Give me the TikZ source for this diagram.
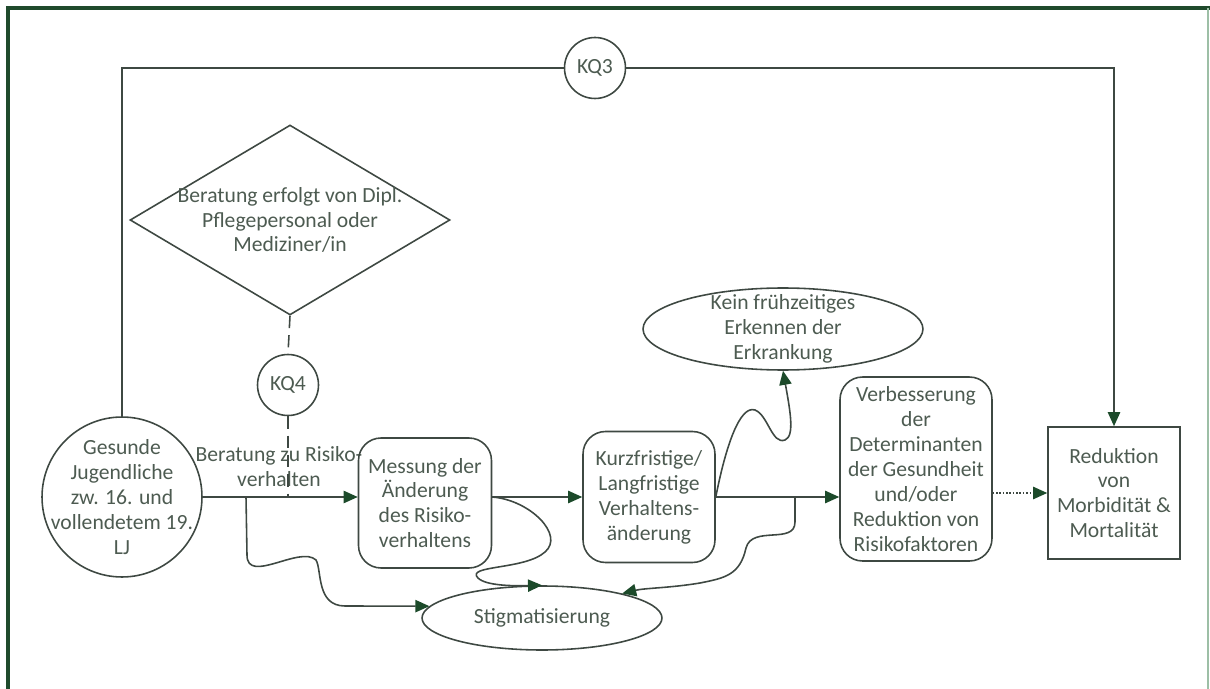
\documentclass[tikz,border=0pt]{standalone}
\usepackage{fontspec}
\setmainfont{Carlito}
\usepackage{tikz}
\usetikzlibrary{shapes,arrows.meta}
\usepackage{xcolor}
\definecolor{framegreen}{HTML}{1F4A2C}
\definecolor{framelight}{HTML}{9DBFA6}
\definecolor{linegray}{HTML}{3E4842}
\definecolor{textgray}{HTML}{4D5B51}
\definecolor{headgreen}{HTML}{1C4A2A}

\begin{document}
\begin{tikzpicture}[x=0.02cm,y=-0.02cm,font=\fontsize{12.3}{14.2}\selectfont]
    \tikzstyle{line} = [draw=linegray,line width=0.9pt]
    \tikzstyle{arr} = [line,-{Triangle[length=8pt,width=7pt,color=headgreen]}]
    \tikzstyle{box} = [line,rectangle,rounded corners=0.45cm,text=textgray,align=center,inner sep=0pt]
    \tikzstyle{plainbox} = [line,rectangle,text=textgray,align=center,inner sep=0pt]
    \tikzstyle{oval} = [line,ellipse,text=textgray,align=center,inner sep=0pt,inner ysep=-6pt]
    \tikzstyle{kq} = [line,circle,text=textgray,minimum size=1.22cm,inner sep=0pt]
    \tikzstyle{decision} = [line,diamond,text=textgray,align=center,aspect=1.69,inner xsep=-0.35cm,inner ysep=0pt,minimum width=6.4cm,minimum height=3.8cm]
    \tikzstyle{mylabel} = [text=textgray,align=center,inner sep=0pt]
    \useasboundingbox (0,0) rectangle (1210,689);
    % frame
    \draw[framegreen,line width=2.8pt] (8,689) -- (8,8) -- (1210,8);
    \draw[framelight,line width=1pt] (1208,8) -- (1208,689);
    \node[kq] (kqthree) at (595,68) {KQ3};
    \node[decision] (beratungdipl) at (290,220) {Beratung erfolgt von Dipl.\\Pflegepersonal oder\\Mediziner/in};
    \node[kq] (kqfour) at (288,385) {KQ4};
    \node[line,circle,text=textgray,align=center,inner sep=-8pt,minimum size=3.2cm] (gesunde) at (122,497) {Gesunde\\Jugendliche\\zw. 16. und\\vollendetem 19.\\LJ};
    \node[mylabel] (beratung) at (279,467) {Beratung zu Risiko-\\verhalten};
    \node[box,minimum width=2.66cm,minimum height=2.6cm] (messung) at (425,503) {Messung der\\Änderung\\des Risiko-\\verhaltens};
    \node[box,minimum width=2.64cm,minimum height=2.62cm] (kurz) at (649,497) {Kurzfristige/\\Langfristige\\Verhaltens-\\änderung};
    \node[box,minimum width=3.04cm,minimum height=3.68cm] (verbess) at (916,469) {Verbesserung\\der\\Determinanten\\der Gesundheit\\und/oder\\Reduktion von\\Risikofaktoren};
    \node[plainbox,minimum width=2.64cm,minimum height=2.64cm] (reduktion) at (1114,493) {Reduktion\\von\\Morbidität \&\\Mortalität};
    \node[oval,minimum width=5.6cm,minimum height=1.64cm] (kein) at (783,329) {Kein frühzeitiges\\Erkennen der\\Erkrankung};
    \node[oval,minimum width=4.8cm,minimum height=1.28cm] (stigma) at (542,618) {Stigmatisierung};
    \coordinate (gabel1) at (246,497);
    \coordinate (gabel2) at (795,497);
    % main flow
    \draw[arr] (gesunde.east) -- (gesunde.east -| messung.west);
    \draw[arr] (kurz.west -| messung.east) -- (kurz.west);
    \draw[arr] (kurz.east) -- (kurz.east -| verbess.west);
    \draw[arr,densely dotted] (verbess.east |- reduktion.west) -- (reduktion.west);
    \draw[line] (gesunde.north) |- (kqthree.west);
    \draw[arr] (kqthree.east) -| (reduktion.north);
    \draw[line,dash pattern=on 7pt off 4pt] (beratungdipl.south) -- (kqfour.north);
    \draw[line,dash pattern=on 7pt off 4pt] (kqfour.south) -- (kqfour.south |- gesunde.east);
    % side effects
    \draw[arr] (gabel1) -- (247,555) .. controls (247,585) and (300,545) .. (316,560) .. controls (322,570) and (316,606) .. (345,606) -- (stigma.174);
    \draw[arr] (kurz.west -| messung.east) .. controls (530,500) and (565,535) .. (545,552) .. controls (525,570) and (465,565) .. (478,578) .. controls (486,586) and (515,586) .. (stigma.north);
    \draw[arr] (kurz.east) .. controls (726,445) and (740,405) .. (755,410) .. controls (768,415) and (772,445) .. (785,440) .. controls (795,436) and (790,410) .. (kein.south);
    \draw[arr] (gabel2) -- (795,522) .. controls (795,545) and (752,525) .. (746,548) .. controls (740,575) and (725,578) .. (700,583) .. controls (670,588) and (645,588) .. (stigma.17);
\end{tikzpicture}
\end{document}
